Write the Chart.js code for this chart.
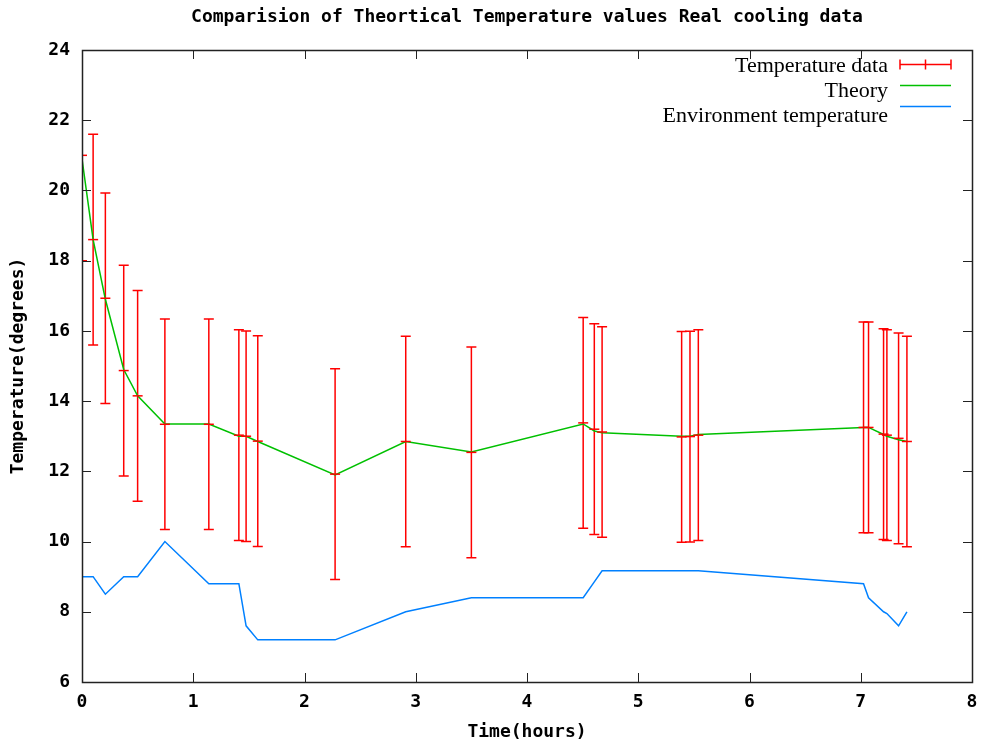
<!DOCTYPE html>
<html>
<head>
<meta charset="utf-8">
<title>Comparision of Theortical Temperature values Real cooling data</title>
<script src="https://cdn.jsdelivr.net/npm/chart.js@4.4.1/dist/chart.umd.min.js"></script>
<style>
  html, body { margin: 0; padding: 0; background: #fff; }
</style>
</head>
<body>
<canvas id="chart" width="981" height="743"></canvas>
<script>
// time of each reading, in hours
const hours = [0, 0.10, 0.21, 0.375, 0.50, 0.745, 1.14, 1.41, 1.475, 1.58, 2.275, 2.91, 3.50,
  4.505, 4.605, 4.675, 5.39, 5.465, 5.54, 7.025, 7.07, 7.205, 7.235, 7.34, 7.415]
// measured water temperature and its error
const measured = [21.0, 18.6, 16.93, 14.87, 14.15, 13.34, 13.34, 13.03, 13.0, 12.86, 11.92, 12.85, 12.54,
  13.38, 13.2, 13.12, 12.98, 12.99, 13.03, 13.25, 13.25, 13.06, 13.03, 12.94, 12.85]
const errors = [3, 3, 3, 3, 3, 3, 3, 3, 3, 3, 3, 3, 3, 3, 3, 3, 3, 3, 3, 3, 3, 3, 3, 3, 3]
// cooling law prediction
const theory = [20.9, 18.6, 16.9, 14.9, 14.15, 13.35, 13.35, 13.0, 13.0, 12.85, 11.9, 12.85, 12.55,
  13.35, 13.15, 13.1, 13.0, 13.0, 13.05, 13.25, 13.25, 13.05, 13.0, 12.9, 12.85]
// air temperature around the sample
const environment = [9.0, 9.0, 8.5, 9.0, 9.0, 10.0, 8.8, 8.8, 7.6, 7.2, 7.2, 8.0, 8.4,
  8.4, 8.85, 9.17, 9.17, 9.17, 9.17, 8.8, 8.4, 8.0, 7.95, 7.6, 8.0]

const xTicks = [0, 1, 2, 3, 4, 5, 6, 7, 8]
const yTicks = [6, 8, 10, 12, 14, 16, 18, 20, 22, 24]

const MONO = '"DejaVu Sans Mono", monospace'
const RED = '#ff0000'
const GREEN = '#00c000'
const BLUE = '#0080ff'

const toPoints = (ys) => hours.map((h, i) => ({ x: h, y: ys[i] }))

// vertical error bars with caps, drawn under the lines
const errorBars = {
	id: 'errorBars',
	beforeDatasetsDraw(chart) {
		const { ctx, chartArea, scales } = chart
		ctx.save()
		ctx.beginPath()
		ctx.rect(chartArea.left, chartArea.top, chartArea.width, chartArea.height)
		ctx.clip()
		ctx.strokeStyle = RED
		ctx.lineWidth = 1.5
		hours.forEach((h, i) => {
			const x = scales.x.getPixelForValue(h)
			const top = scales.y.getPixelForValue(measured[i] + errors[i])
			const bot = scales.y.getPixelForValue(measured[i] - errors[i])
			ctx.beginPath()
			ctx.moveTo(x, top)
			ctx.lineTo(x, bot)
			ctx.moveTo(x - 5, top)
			ctx.lineTo(x + 5, top)
			ctx.moveTo(x - 5, bot)
			ctx.lineTo(x + 5, bot)
			ctx.stroke()
		})
		ctx.restore()
	},
}

// gnuplot style frame with inward ticks on all four sides
const frame = {
	id: 'frame',
	afterDraw(chart) {
		const { ctx, chartArea: a, scales } = chart
		ctx.save()
		ctx.strokeStyle = '#222'
		ctx.lineWidth = 1
		ctx.beginPath()
		xTicks.forEach((t) => {
			const x = Math.round(scales.x.getPixelForValue(t)) + 0.5
			ctx.moveTo(x, a.bottom)
			ctx.lineTo(x, a.bottom - 9)
			ctx.moveTo(x, a.top)
			ctx.lineTo(x, a.top + 9)
		})
		yTicks.forEach((t) => {
			const y = Math.round(scales.y.getPixelForValue(t)) + 0.5
			ctx.moveTo(a.left, y)
			ctx.lineTo(a.left + 9, y)
			ctx.moveTo(a.right, y)
			ctx.lineTo(a.right - 9, y)
		})
		ctx.stroke()
		ctx.lineWidth = 1.5
		ctx.strokeRect(Math.round(a.left) + 0.5, Math.round(a.top) + 0.5, Math.round(a.width), Math.round(a.height))
		ctx.restore()
	},
}

// key in the top right corner: text right aligned, sample on the right
const key = {
	id: 'key',
	afterDraw(chart) {
		const { ctx, chartArea: a } = chart
		const end = a.right - 21
		const start = end - 51
		ctx.save()
		ctx.font = '22px "Liberation Serif", serif'
		ctx.textAlign = 'right'
		ctx.textBaseline = 'alphabetic'
		chart.data.datasets.forEach((ds, i) => {
			const sy = Math.round(a.top + 14 + i * 21) + 0.5
			ctx.fillStyle = '#000'
			ctx.fillText(ds.label, start - 12, a.top + 22 + i * 25)
			ctx.strokeStyle = ds.borderColor
			ctx.lineWidth = 1.5
			ctx.beginPath()
			ctx.moveTo(start, sy)
			ctx.lineTo(end, sy)
			if (i === 0) {
				;[start, (start + end) / 2, end].forEach((x) => {
					ctx.moveTo(x, sy - 5)
					ctx.lineTo(x, sy + 5)
				})
			}
			ctx.stroke()
		})
		ctx.restore()
	},
}

const tickFont = { family: MONO, size: 18, weight: 'bold' }

new Chart(document.getElementById('chart'), {
	type: 'line',
	data: {
		datasets: [
			{
				label: 'Temperature data',
				data: toPoints(measured),
				showLine: false,
				borderColor: RED,
				backgroundColor: RED,
				pointStyle: 'line',
				pointRadius: 5,
				pointBorderWidth: 1.5,
			},
			{
				label: 'Theory',
				data: toPoints(theory),
				borderColor: GREEN,
				borderWidth: 1.5,
				pointRadius: 0,
				tension: 0,
			},
			{
				label: 'Environment temperature',
				data: toPoints(environment),
				borderColor: BLUE,
				borderWidth: 1.5,
				pointRadius: 0,
				tension: 0,
			},
		],
	},
	options: {
		responsive: false,
		animation: false,
		devicePixelRatio: 1,
		layout: { padding: { left: 0, right: 9, top: 0, bottom: 0 } },
		plugins: {
			legend: { display: false },
			tooltip: { enabled: false },
			title: {
				display: true,
				fullSize: false,
				text: 'Comparision of Theortical Temperature values Real cooling data',
				color: '#000',
				font: tickFont,
				padding: { top: 7, bottom: 21.4 },
			},
		},
		scales: {
			x: {
				type: 'linear',
				min: 0,
				max: 8,
				afterFit(scale) {
					scale.height = 61
					scale.paddingLeft = 0
					scale.paddingRight = 0
				},
				afterBuildTicks(scale) {
					scale.ticks = xTicks.map((v) => ({ value: v }))
				},
				grid: { display: false, drawTicks: false },
				border: { display: false },
				ticks: { color: '#000', font: tickFont, padding: 10, maxRotation: 0, autoSkip: false },
				title: {
					display: true,
					text: 'Time(hours)',
					color: '#000',
					font: tickFont,
					padding: { top: 0, bottom: 0 },
				},
			},
			y: {
				type: 'linear',
				min: 6,
				max: 24,
				afterFit(scale) {
					scale.width = 82
					scale.paddingTop = 0
					scale.paddingBottom = 0
				},
				afterBuildTicks(scale) {
					scale.ticks = yTicks.map((v) => ({ value: v }))
				},
				grid: { display: false, drawTicks: false },
				border: { display: false },
				ticks: { color: '#000', font: tickFont, padding: 12, autoSkip: false },
				title: {
					display: true,
					text: 'Temperature(degrees)',
					color: '#000',
					font: tickFont,
					padding: { top: 8, bottom: 0 },
				},
			},
		},
	},
	plugins: [errorBars, frame, key],
})
</script>
</body>
</html>
